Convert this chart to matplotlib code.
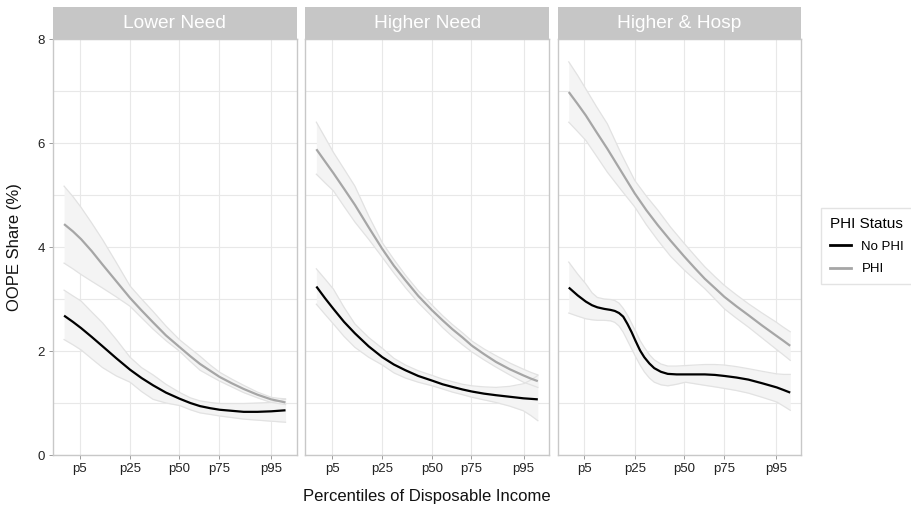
#!/usr/bin/env python3
"""
OOPE share by disposable income percentile, faceted by need group.
Output: out.png
"""

import matplotlib
matplotlib.use("Agg")
import matplotlib.pyplot as plt
from matplotlib.lines import Line2D

plt.rcParams["font.family"] = ["Liberation Sans", "DejaVu Sans"]

# ---- data ----
PANELS = ["Lower Need", "Higher Need", "Higher & Hosp"]
TICK_POS = [0.071, 0.298, 0.521, 0.700, 0.936]
TICK_LABELS = ["p5", "p25", "p50", "p75", "p95"]

# position along the income axis (0 = lowest observed, 1 = highest)
X = [0.0, 0.04, 0.077, 0.125, 0.174, 0.236, 0.298, 0.35, 0.402, 0.46, 0.523,
     0.57, 0.614, 0.66, 0.703, 0.757, 0.811, 0.873, 0.935, 0.968, 1.0]

# Lower Need
low_phi = [4.44, 4.30, 4.15, 3.92, 3.66, 3.34, 3.02, 2.78, 2.55, 2.30, 2.07,
           1.90, 1.75, 1.62, 1.50, 1.38, 1.27, 1.16, 1.07, 1.04, 1.01]
low_phi_hi = [5.17, 4.97, 4.76, 4.46, 4.14, 3.70, 3.25, 3.00, 2.76, 2.48, 2.21,
              2.05, 1.90, 1.73, 1.59, 1.46, 1.34, 1.21, 1.11, 1.09, 1.08]
low_phi_lo = [3.69, 3.58, 3.47, 3.34, 3.21, 3.04, 2.86, 2.64, 2.42, 2.20, 1.99,
              1.80, 1.63, 1.52, 1.42, 1.31, 1.20, 1.10, 1.01, 0.99, 0.97]
low_nophi = [2.68, 2.56, 2.44, 2.27, 2.09, 1.86, 1.64, 1.48, 1.34, 1.20, 1.08,
             1.00, 0.94, 0.90, 0.87, 0.85, 0.83, 0.83, 0.84, 0.85, 0.86]
low_nophi_hi = [3.17, 3.06, 2.96, 2.75, 2.54, 2.22, 1.88, 1.68, 1.54, 1.36, 1.20,
                1.10, 1.04, 1.01, 0.99, 0.99, 0.99, 1.00, 1.01, 1.04, 1.07]
low_nophi_lo = [2.22, 2.12, 2.02, 1.85, 1.68, 1.52, 1.40, 1.22, 1.07, 1.00, 0.95,
                0.87, 0.81, 0.78, 0.75, 0.72, 0.69, 0.67, 0.65, 0.64, 0.63]

# Higher Need
high_phi = [5.88, 5.64, 5.42, 5.12, 4.81, 4.38, 3.96, 3.64, 3.36, 3.06, 2.78,
            2.59, 2.42, 2.26, 2.10, 1.94, 1.79, 1.65, 1.53, 1.47, 1.42]
high_phi_hi = [6.40, 6.10, 5.82, 5.50, 5.17, 4.60, 4.08, 3.76, 3.46, 3.16, 2.88,
               2.68, 2.51, 2.35, 2.19, 2.04, 1.91, 1.77, 1.65, 1.59, 1.54]
high_phi_lo = [5.40, 5.23, 5.08, 4.78, 4.48, 4.15, 3.80, 3.50, 3.22, 2.93, 2.66,
               2.45, 2.28, 2.12, 1.98, 1.83, 1.69, 1.54, 1.40, 1.35, 1.30]
high_nophi = [3.24, 3.01, 2.81, 2.56, 2.34, 2.09, 1.88, 1.74, 1.63, 1.52, 1.43,
              1.36, 1.31, 1.26, 1.22, 1.18, 1.15, 1.12, 1.09, 1.08, 1.07]
high_nophi_hi = [3.58, 3.38, 3.19, 2.84, 2.52, 2.26, 2.05, 1.86, 1.73, 1.62, 1.53,
                 1.46, 1.41, 1.36, 1.33, 1.31, 1.30, 1.32, 1.37, 1.44, 1.53]
high_nophi_lo = [2.90, 2.70, 2.52, 2.28, 2.07, 1.88, 1.73, 1.58, 1.48, 1.40, 1.33,
                 1.27, 1.21, 1.16, 1.11, 1.06, 1.01, 0.94, 0.85, 0.76, 0.66]

# Higher & Hosp
hosp_phi = [6.98, 6.75, 6.53, 6.21, 5.89, 5.46, 5.03, 4.71, 4.42, 4.12, 3.81,
            3.59, 3.39, 3.21, 3.04, 2.86, 2.69, 2.49, 2.30, 2.20, 2.10]
hosp_phi_hi = [7.56, 7.30, 7.04, 6.70, 6.37, 5.80, 5.28, 4.98, 4.71, 4.38, 4.06,
               3.83, 3.62, 3.43, 3.26, 3.08, 2.91, 2.73, 2.56, 2.46, 2.37]
hosp_phi_lo = [6.40, 6.22, 6.05, 5.75, 5.44, 5.10, 4.77, 4.43, 4.13, 3.82, 3.55,
               3.37, 3.20, 3.00, 2.81, 2.63, 2.46, 2.25, 2.04, 1.93, 1.82]

X_HOSP = [0.0, 0.04, 0.077, 0.105, 0.129, 0.16, 0.189, 0.208, 0.227, 0.246,
          0.265, 0.284, 0.303, 0.322, 0.341, 0.364, 0.386, 0.416, 0.447, 0.487,
          0.526, 0.57, 0.614, 0.66, 0.703, 0.757, 0.811, 0.873, 0.939, 0.97, 1.0]
hosp_nophi = [3.22, 3.07, 2.95, 2.88, 2.84, 2.81, 2.79, 2.77, 2.73, 2.66,
              2.52, 2.36, 2.18, 2.01, 1.88, 1.76, 1.67, 1.60, 1.56, 1.55,
              1.55, 1.55, 1.55, 1.54, 1.52, 1.49, 1.45, 1.38, 1.30, 1.25, 1.20]
hosp_nophi_hi = [3.71, 3.48, 3.29, 3.12, 3.03, 3.00, 2.99, 2.97, 2.92, 2.82,
                 2.69, 2.53, 2.37, 2.20, 2.07, 1.93, 1.83, 1.75, 1.71, 1.71,
                 1.72, 1.73, 1.74, 1.74, 1.73, 1.70, 1.66, 1.61, 1.56, 1.55, 1.55]
hosp_nophi_lo = [2.73, 2.67, 2.62, 2.60, 2.59, 2.59, 2.58, 2.55, 2.48, 2.36,
                 2.20, 2.04, 1.88, 1.73, 1.60, 1.48, 1.40, 1.35, 1.33, 1.36,
                 1.40, 1.37, 1.34, 1.31, 1.28, 1.24, 1.19, 1.11, 1.02, 0.94, 0.86]

SERIES = [
    # (x, phi, phi_lo, phi_hi, x_no, nophi, nophi_lo, nophi_hi)
    (X, low_phi, low_phi_lo, low_phi_hi, X, low_nophi, low_nophi_lo, low_nophi_hi),
    (X, high_phi, high_phi_lo, high_phi_hi, X, high_nophi, high_nophi_lo, high_nophi_hi),
    (X, hosp_phi, hosp_phi_lo, hosp_phi_hi, X_HOSP, hosp_nophi, hosp_nophi_lo, hosp_nophi_hi),
]

COL_PHI = "#A6A6A6"
COL_NOPHI = "#000000"
BAND_FILL = "#F4F4F4"
BAND_EDGE = "#E2E2E2"
GRID = "#E8E8E8"
BORDER = "#C8C8C8"
STRIP = "#C6C6C6"

W, H = 911, 515
fig = plt.figure(figsize=(W / 100, H / 100), dpi=100)

panel_left = [53, 305.3, 557.7]
panel_w = 243.6
p_top, p_bot = 39, 455
s_top = 7


def ribbon(ax, x, lo, hi):
    ax.fill_between(x, lo, hi, color=BAND_FILL, lw=0, zorder=2)
    ax.plot(x, lo, color=BAND_EDGE, lw=0.9, zorder=2.5)
    ax.plot(x, hi, color=BAND_EDGE, lw=0.9, zorder=2.5)


for i, (name, ser) in enumerate(zip(PANELS, SERIES)):
    x0 = panel_left[i]
    ax = fig.add_axes([x0 / W, (H - p_bot) / H, panel_w / W, (p_bot - p_top) / H])
    xp, phi, phi_lo, phi_hi, xn, nophi, nophi_lo, nophi_hi = ser

    ribbon(ax, xp, phi_lo, phi_hi)
    ribbon(ax, xn, nophi_lo, nophi_hi)
    ax.plot(xp, phi, color=COL_PHI, lw=1.6, zorder=3, solid_capstyle="butt")
    ax.plot(xn, nophi, color=COL_NOPHI, lw=1.6, zorder=3, solid_capstyle="butt")

    ax.set_xlim(-0.05, 1.05)
    ax.set_ylim(0, 8)
    ax.set_xticks(TICK_POS)
    ax.set_xticklabels(TICK_LABELS)
    ax.set_yticks([0, 2, 4, 6, 8])
    ax.set_yticks([1, 3, 5, 7], minor=True)
    ax.grid(True, which="major", color=GRID, lw=0.8, zorder=0)
    ax.grid(True, which="minor", axis="y", color=GRID, lw=0.8, zorder=0)
    ax.set_axisbelow(True)
    ax.tick_params(axis="both", which="major", length=3, width=0.7,
                   color="#9A9A9A", labelsize=9.5, labelcolor="#222222", pad=3)
    ax.tick_params(axis="y", which="minor", length=0)
    if i > 0:
        ax.tick_params(axis="y", which="major", left=False, labelleft=False)
    for sp in ax.spines.values():
        sp.set_color(BORDER)
        sp.set_linewidth(1.0)

    # strip header
    sax = fig.add_axes([x0 / W, (H - p_top) / H, panel_w / W, (p_top - s_top) / H])
    sax.set_facecolor(STRIP)
    sax.set_xticks([])
    sax.set_yticks([])
    for sp in sax.spines.values():
        sp.set_visible(False)
    sax.text(0.5, 0.5, name, color="white", fontsize=13.8,
             ha="center", va="center", transform=sax.transAxes)

fig.text(427 / W, 18 / H, "Percentiles of Disposable Income",
         ha="center", va="center", fontsize=12, color="#111111")
fig.text(15 / W, (H - 247) / H, "OOPE Share (%)", rotation=90,
         ha="center", va="center", fontsize=12, color="#111111")

handles = [Line2D([], [], color=COL_NOPHI, lw=2),
           Line2D([], [], color=COL_PHI, lw=2)]
leg = fig.legend(handles, ["No PHI", "PHI"], title="PHI Status",
                 loc="center left", bbox_to_anchor=(814 / W, (H - 246) / H),
                 fontsize=9.5, title_fontsize=11, frameon=True, fancybox=False,
                 handlelength=1.6, handletextpad=0.8, labelspacing=0.75,
                 borderpad=0.7)
leg.get_frame().set_edgecolor("#DDDDDD")
leg.get_frame().set_linewidth(1.0)
leg._legend_box.align = "left"

fig.savefig("out.png", dpi=100)
